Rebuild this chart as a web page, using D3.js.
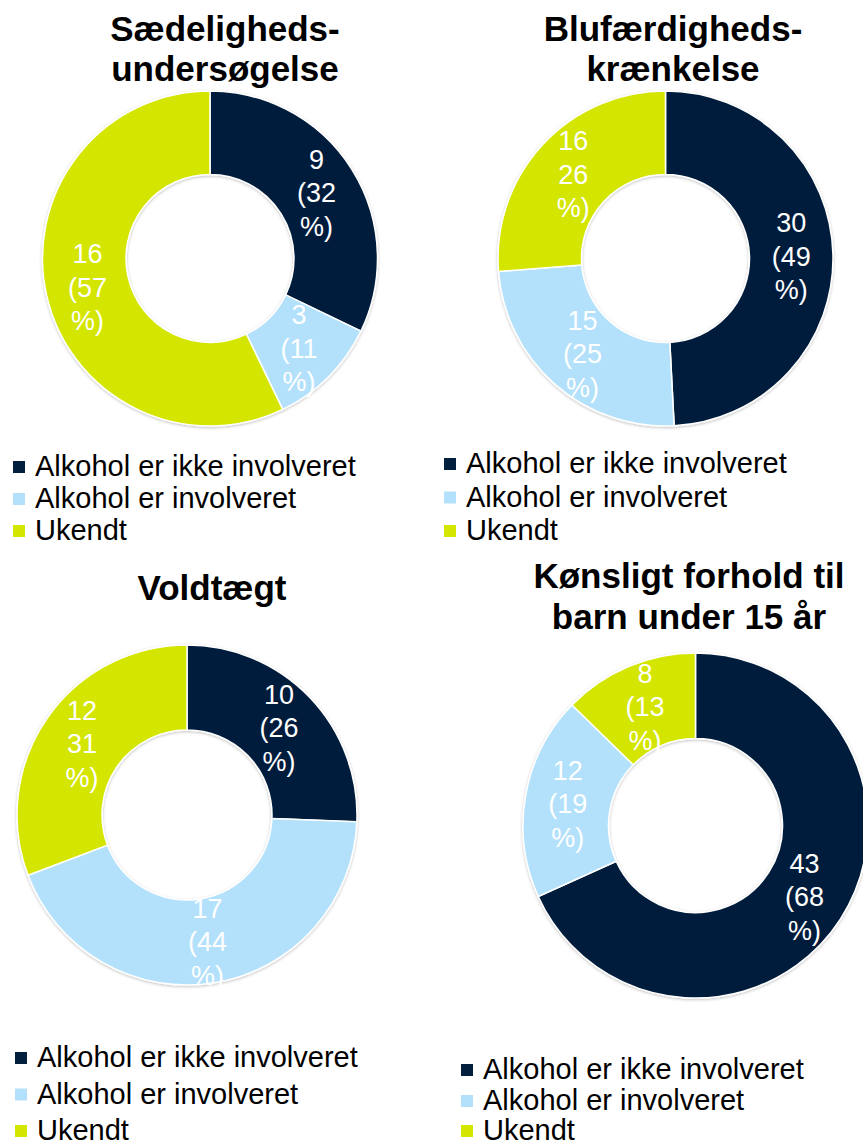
<!DOCTYPE html>
<html>
<head>
<meta charset="utf-8">
<script src="https://cdn.jsdelivr.net/npm/d3@7"></script>
<style>
  body { margin: 0; background: #fff; }
  text { font-family: "Liberation Sans", Arial, sans-serif; }
</style>
</head>
<body>
<div id="chart"></div>
<script>
////////////////////////////////////////////////////////////////////////
// Data

let categories = ["Alkohol er ikke involveret", "Alkohol er involveret", "Ukendt"];

let titles = [
  ["Sædeligheds-", "undersøgelse"],
  ["Blufærdigheds-", "krænkelse"],
  ["Voldtægt"],
  ["Kønsligt forhold til", "barn under 15 år"]
];

let values = [
  [9, 3, 16],
  [30, 15, 16],
  [10, 17, 12],
  [43, 12, 8]
];

// percent part of the data labels, as written in the chart (some lost their "(")
let pctLabels = [
  ["(32", "(11", "(57"],
  ["(49", "(25", "26"],
  ["(26", "(44", "31"],
  ["(68", "(19", "(13"]
];

let colors = ["#021f3e", "#b3e1fb", "#d4e500"];

////////////////////////////////////////////////////////////////////////
// Layout of the four panels

let width = 863;
let height = 1147;

let panels = [
  { cx: 210, cy: 258.5, rOut: 167.5, rIn: 84, tx: 225, ty: [41, 81],
    lx: 13, ly: [476, 508, 540] },
  { cx: 665.5, cy: 258.5, rOut: 167.5, rIn: 84, tx: 673, ty: [41, 81],
    lx: 444, ly: [473, 506.5, 540] },
  { cx: 187, cy: 815, rOut: 170, rIn: 85, tx: 212, ty: [600],
    lx: 15, ly: [1067, 1103.5, 1140] },
  { cx: 695.5, cy: 825.5, rOut: 172.5, rIn: 87, tx: 689, ty: [588, 629],
    lx: 461, ly: [1079, 1110, 1140] }
];

let svg = d3.select("#chart")
  .append("svg")
  .attr("width", width).attr("height", height);

// faint shadow round the rings
let defs = svg.append("defs");
let shadow = defs.append("filter").attr("id", "shadow")
  .attr("x", "-10%").attr("y", "-10%").attr("width", "120%").attr("height", "120%");
shadow.append("feDropShadow")
  .attr("dx", 0).attr("dy", 1).attr("stdDeviation", 1.5)
  .attr("flood-color", "#000").attr("flood-opacity", 0.25);

let color = d3.scaleOrdinal().domain(categories).range(colors);

let pie = d3.pie().sort(null).value(function(d) { return d; });

panels.forEach(function(p, i) {
  let g = svg.append("g").attr("class", "panel");

  // title
  g.selectAll(".title")
    .data(titles[i])
    .enter().append("text")
    .attr("class", "title")
    .attr("x", p.tx)
    .attr("y", function(d, j) { return p.ty[j]; })
    .attr("text-anchor", "middle")
    .style("font-size", "35px")
    .style("font-weight", "bold")
    .style("fill", "#000")
    .text(function(d) { return d; });

  let arc = d3.arc().innerRadius(p.rIn).outerRadius(p.rOut);
  let arcs = pie(values[i]);

  let ring = g.append("g")
    .attr("transform", "translate(" + p.cx + "," + p.cy + ")");

  ring.append("g")
    .attr("filter", "url(#shadow)")
    .selectAll("path")
    .data(arcs)
    .enter().append("path")
    .attr("d", arc)
    .style("fill", function(d, j) { return color(categories[j]); })
    .style("stroke", "#fff")
    .style("stroke-width", 1.5);

  // data labels, three lines centred on each slice
  ring.selectAll(".datalabel")
    .data(arcs)
    .enter().append("text")
    .attr("class", "datalabel")
    .attr("text-anchor", "middle")
    .style("font-size", "27px")
    .style("fill", "#fff")
    .each(function(d, j) {
      let c = arc.centroid(d);
      let lines = [String(d.value), pctLabels[i][j], "%)"];
      d3.select(this).selectAll("tspan")
        .data(lines)
        .enter().append("tspan")
        .attr("x", c[0])
        .attr("y", function(t, k) { return c[1] + 10.5 + (k - 1) * 33.5; })
        .text(function(t) { return t; });
    });

  // legend
  let leg = g.selectAll(".legend")
    .data(categories)
    .enter().append("g")
    .attr("class", "legend");

  leg.append("rect")
    .attr("x", p.lx)
    .attr("y", function(d, j) { return p.ly[j] - 15; })
    .attr("width", 12).attr("height", 12)
    .style("fill", function(d) { return color(d); });

  leg.append("text")
    .attr("x", p.lx + 22)
    .attr("y", function(d, j) { return p.ly[j]; })
    .style("font-size", "29px")
    .style("fill", "#000")
    .text(function(d) { return d; });
});
</script>
</body>
</html>
